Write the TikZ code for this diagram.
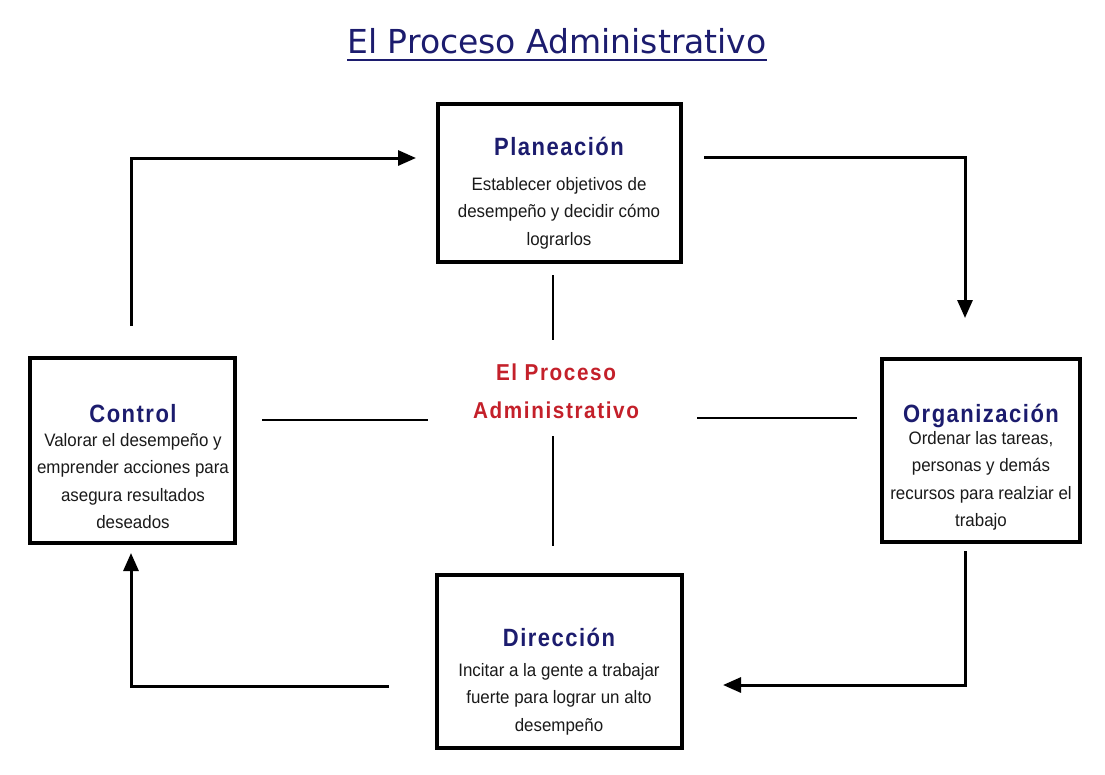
\documentclass[tikz,border=0pt]{standalone}
\usepackage{fontspec}
\setmainfont{Liberation Sans}
\newfontfamily\headfont{DejaVu Sans}
\newfontfamily\spacedfont[LetterSpace=6,FakeStretch=0.88]{Liberation Sans}
\newfontfamily\coreFont[LetterSpace=7,FakeStretch=0.9]{Liberation Sans}
\newfontfamily\narrowfont[FakeStretch=0.94]{Liberation Sans}
\usetikzlibrary{arrows.meta}
\definecolor{navy}{HTML}{1C1C6E}
\definecolor{procred}{HTML}{C4202A}
\definecolor{bodygray}{HTML}{1A1A1A}
\tikzset{
  stagebox/.style={draw=black, line width=4pt, fill=white, inner sep=0pt},
  stagetitle/.style={font=\spacedfont\bfseries\fontsize{25}{28}\selectfont, text=navy, anchor=base},
  stagetext/.style={font=\narrowfont\fontsize{18}{27.5}\selectfont, text=bodygray, align=center},
  flow/.style={line width=3pt, -{Triangle[length=18pt,width=15pt]}},
  spoke/.style={line width=2pt},
}
\begin{document}
\begin{tikzpicture}[x=1pt,y=-1pt]
\useasboundingbox[fill=white] (0,0) rectangle (1105,774);

% heading
\node[font=\headfont\fontsize{33}{36}\selectfont, text=navy, anchor=base, inner sep=0pt] (head) at (557,53) {El Proceso Administrativo};
\draw[navy, line width=1.8pt] ([yshift=-7pt]head.base west) -- ([yshift=-7pt]head.base east);

% the four stages
\node[stagebox, minimum width=243pt, minimum height=158pt] (plan) at (559,183) {};
\node[stagebox, minimum width=205pt, minimum height=185pt] (ctrl) at (132.5,450.5) {};
\node[stagebox, minimum width=198pt, minimum height=183pt] (org) at (981,450.5) {};
\node[stagebox, minimum width=245pt, minimum height=173pt] (dir) at (559.5,661.5) {};

\node[stagetitle] (planT) at (559,155) {Planeación};
\node[stagetext] (planB) at (559,213) {Establecer objetivos de\\desempeño y decidir cómo\\lograrlos};

\node[stagetitle] (ctrlT) at (133,422) {Control};
\node[stagetext] (ctrlB) at (133,481) {Valorar el desempeño y\\emprender acciones para\\asegura resultados\\deseados};

\node[stagetitle] (orgT) at (981,422) {Organización};
\node[stagetext] (orgB) at (981,481) {Ordenar las tareas,\\personas y demás\\recursos para realziar el\\trabajo};

\node[stagetitle] (dirT) at (559,646) {Dirección};
\node[stagetext] (dirB) at (559,699) {Incitar a la gente a trabajar\\fuerte para lograr un alto\\desempeño};

% centre label
\node[font=\coreFont\bfseries\fontsize{23}{38}\selectfont, text=procred, align=center] (core) at (556,391) {El Proceso\\Administrativo};

% spokes around the centre label
\coordinate (sN1) at (553,275);  \coordinate (sN2) at (553,340);
\coordinate (sS1) at (553,436);  \coordinate (sS2) at (553,546);
\coordinate (sW1) at (262,420);  \coordinate (sW2) at (428,420);
\coordinate (sE1) at (697,418);  \coordinate (sE2) at (857,418);
\draw[spoke] (sN1) -- (sN2);
\draw[spoke] (sS1) -- (sS2);
\draw[spoke] (sW1) -- (sW2);
\draw[spoke] (sE1) -- (sE2);

% cycle arrows
\coordinate (a1s) at (131,326);  \coordinate (a1e) at (416,158);
\coordinate (a2s) at (704,157);  \coordinate (a2e) at (965,318);
\coordinate (a3s) at (965,551);  \coordinate (a3e) at (723,685);
\coordinate (a4s) at (389,686);  \coordinate (a4e) at (131,553);
\draw[flow] (a1s) |- (a1e);
\draw[flow] (a2s) -| (a2e);
\draw[flow] (a3s) |- (a3e);
\draw[flow] (a4s) -| (a4e);
\end{tikzpicture}
\end{document}
